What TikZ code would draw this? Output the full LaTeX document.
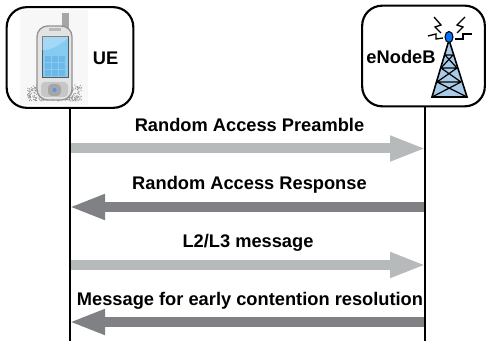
\documentclass[tikz,border=0pt]{standalone}
\usepackage{fontspec}
\setmainfont{Liberation Sans}
\usetikzlibrary{arrows.meta,calc}
\definecolor{lightmsg}{HTML}{B7BABA}
\definecolor{darkmsg}{HTML}{7F8184}
\definecolor{screenblue}{HTML}{86CBF2}
\definecolor{keyblue}{HTML}{6DB8E8}
\definecolor{towerblue}{HTML}{A9CBE8}
\tikzset{
	x=0.75pt,y=-0.75pt,
	entity/.style={draw,line width=1.6pt,rounded corners=15pt,minimum width=95pt,minimum height=75.5pt,inner sep=0pt},
	lifeline/.style={line width=1.1pt},
	msg/.style={line width=7.5pt,-{Triangle[length=27pt,width=17.5pt]}},
	msglabel/.style={font=\bfseries\fontsize{13.7}{15}\selectfont,inner sep=0pt},
	bolt/.style={line width=1pt}
}
\begin{document}
\begin{tikzpicture}
	\useasboundingbox (0,0) rectangle (488,341);
	
	\node[entity] (ue) at (70,57.5) {};
	\node[entity,minimum width=92pt] (enb) at (423.5,56) {};
	\coordinate (ueend) at (70,341);
	\coordinate (enbend) at (425,341);
	
	% handset
	\fill[gray!6] (20,10) rectangle (88,105);
	\pgfmathsetseed{3}
	\foreach \i in {1,...,420} {
		\fill[gray!85] (54.5+27*rand,93+8*rand) circle (0.6);
	}
	\fill[gray!70] (62,13) rectangle (69,29);
	\filldraw[draw=gray!85,fill=gray!22,line width=1pt,rounded corners=8pt] (37,26) rectangle (72,100);
	\fill[gray!55] (49,28) rectangle (61,31);
	\fill[screenblue,draw=gray!70!black,line width=0.4pt] (42,36) rectangle (68,77);
	\fill[white,opacity=0.25] (42,50) .. controls (52,50) and (60,45) .. (68,38) -- (68,36) -- (42,36) -- cycle;
	\foreach \i in {0,1,2} {
		\foreach \j in {0,1,2} {
			\fill[keyblue] (45+7*\i,56+7*\j) rectangle +(6,6);
		}
	}
	\fill[gray!45,rounded corners=3pt] (41,82) rectangle (68,97);
	\fill[gray!70,rounded corners=3pt] (48,84) rectangle (61,96);
	\fill[keyblue!80!blue] (54.5,90) circle (2);
	
	% tower
	\filldraw[fill=towerblue,line width=1.2pt,line join=miter] (449,40) -- (432,97) -- (467,97) -- cycle;
	\draw[line width=0.9pt] (445,55) -- (453,55) (441,68) -- (457,68) (437,82) -- (461,82)
		(445,55) -- (457,68) (453,55) -- (441,68) (441,68) -- (461,82) (457,68) -- (437,82)
		(437,82) -- (467,97) (461,82) -- (432,97);
	\filldraw[fill=blue!55!cyan,line width=0.8pt] (449,37) ellipse (4 and 5.5);
	\draw[bolt] (441,33) -- (435,27) -- (441,25) -- (434,17);
	\draw[bolt] (457,33) -- (463,27) -- (457,25) -- (465,17);
	\draw[bolt] (443,38) -- (436,39) -- (436,34) -- (428,36);
	\draw[bolt] (455,39) -- (463,39) -- (463,34) -- (472,34);
	
	\node[msglabel] (uelabel) at (105.5,58) {UE};
	\node[msglabel] (enblabel) at (401,57) {eNodeB};
	
	% messages
	\foreach \y/\col/\from/\to in {148.5/lightmsg/71/426,207/darkmsg/425/69,265/lightmsg/71/426,322/darkmsg/425/69} {
		\draw[msg,\col] (\from,\y) -- (\to,\y);
	}
	\draw[lifeline] (ue.south -| ueend) -- (ueend);
	\draw[lifeline] (enb.south -| enbend) -- (enbend);
	
	\node[msglabel] (preamble) at (249.5,125) {Random Access Preamble};
	\node[msglabel] (response) at (249.5,185) {Random Access Response};
	\node[msglabel] (l2l3) at (248,243) {L2/L3 message};
	\node[msglabel] (early) at (250,301) {Message for early contention resolution};
\end{tikzpicture}
\end{document}
